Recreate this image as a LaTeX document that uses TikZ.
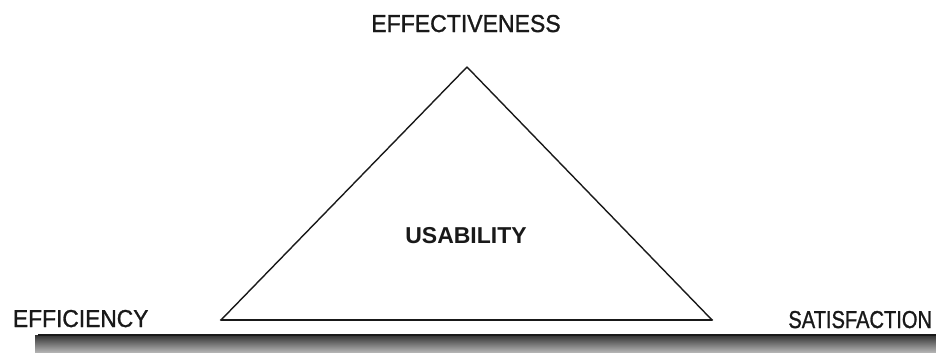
\documentclass[tikz,border=0pt]{standalone}
\usepackage{fontspec}
\setmainfont{Liberation Sans}
\newfontfamily\labfont[FakeBold=1.2]{Liberation Sans}
\begin{document}
\begin{tikzpicture}[x=1pt,y=-1pt,
  lbl/.style={inner sep=0pt,outer sep=0pt,font=\labfont\fontsize{24.5}{28}\selectfont,text=black!90},
  side/.style={line width=1.4pt,black!90,line join=round},
  basel/.style={line width=2.6pt,black!90,line cap=round}]
\useasboundingbox (0,0) rectangle (936,354);
% ground band
\shade[top color=black!80,bottom color=black!30] (35,335) rectangle (936,352);
\draw[line width=2pt,black!90] (38,334.5) -- (936,334.5);
% triangle
\coordinate (apex) at (467,67);
\coordinate (bl) at (221,320);
\coordinate (br) at (712,320);
\draw[side] (bl) -- (apex) -- (br);
\draw[basel] (bl) -- (br);
% labels
\node[lbl,anchor=base] (eff) at (466,32) {\scalebox{0.94}[1]{EFFECTIVENESS}};
\node[lbl,anchor=base west] (efc) at (13,327) {\scalebox{0.93}[1]{EFFICIENCY}};
\node[lbl,anchor=base east] (sat) at (932,328) {\scalebox{0.82}[1]{SATISFACTION}};
\node[lbl,anchor=base,font=\fontsize{23}{27}\selectfont\bfseries] (usa) at (466,243) {USABILITY};
\end{tikzpicture}
\end{document}
